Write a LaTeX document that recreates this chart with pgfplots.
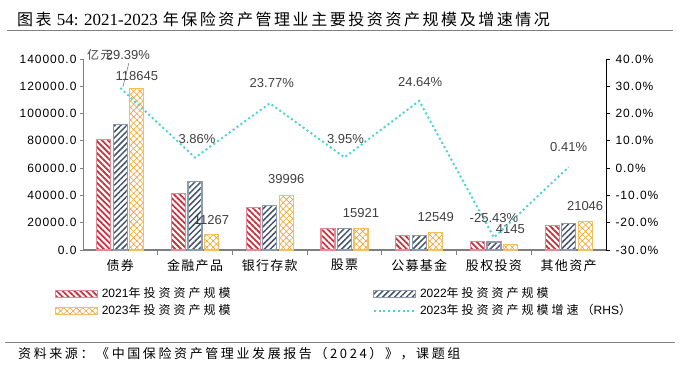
\documentclass[border=0pt]{standalone}
\usepackage{fontspec}
\setmainfont{Liberation Sans}
\newfontfamily\tickfont{Liberation Sans}[LetterSpace=8]
\newfontfamily\cjk{Noto Sans CJK SC}[LetterSpace=10]
\newfontfamily\cjkl{Noto Sans CJK SC}[LetterSpace=25]
\newfontfamily\cjkt{Noto Sans CJK SC}[LetterSpace=16]
\newfontfamily\cjks{Noto Sans CJK SC}[LetterSpace=20]
\newfontfamily\serifnum{Liberation Serif}
\usepackage{pgfplots}
\usepackage{pgfplotstable}
\pgfplotsset{compat=1.18}
\usetikzlibrary{patterns.meta}
\newcommand\fs[1]{\fontsize{#1}{#1}\selectfont}

\definecolor{cred}{HTML}{C8323F}
\definecolor{credb}{HTML}{E48A96}
\definecolor{cnavy}{HTML}{44546A}
\definecolor{cnavyb}{HTML}{8E9AB0}
\definecolor{corange}{HTML}{F2A22A}
\definecolor{corangeb}{HTML}{F7BE60}
\definecolor{ccyan}{HTML}{4CD4D4}
\definecolor{clab}{HTML}{404040}
\definecolor{axgray}{HTML}{808080}

\tikzset{
  redbar/.style={draw=credb, line width=1.2pt, pattern={Lines[angle=-45,distance=4.2pt,line width=1.8pt]}, pattern color=cred},
  navybar/.style={draw=cnavyb, line width=1.2pt, pattern={Lines[angle=45,distance=4.2pt,line width=1.5pt]}, pattern color=cnavy},
  orangebar/.style={draw=corangeb, line width=1.2pt, pattern={Hatch[angle=45,distance=4.5pt,line width=0.6pt]}, pattern color=corange},
  growline/.style={draw=ccyan, line width=2pt, dash pattern=on 2pt off 2.8pt},
}

\pgfplotstableread{
x y21 y22 y23 lab dy
0 81000 92000 118645 118645 12
1 41500 50300 11267 11267 15
2 31300 32800 39996 39996 16
3 15600 15600 15921 15921 15
4 10500 10700 12549 12549 15.5
5 6000 5900 4145 4145 15
6 18100 19600 21046 21046 15.5
}\bars

\pgfplotstableread{
x g lab dx dy
0 29.39 29.39 7.6 33
1 3.86 3.86 2 18.6
2 23.77 23.77 2 20
3 3.95 3.95 1 18.4
4 24.64 24.64 1 19
5 -25.43 -25.43 0 19.5
6 0.41 0.41 0 20
}\growth

\begin{document}
\begin{tikzpicture}
\begin{axis}[
  scale only axis, width=523pt, height=191pt,
  xmin=-0.5, xmax=6.5, ymin=0, ymax=140000,
  axis y line*=left, axis x line*=bottom,
  x axis line style={draw=axgray, line width=1.6pt},
  y axis line style={draw=axgray, line width=0.8pt},
  ybar=2.5pt, bar width=14pt,
  xtick={0,...,6},
  xticklabels={债券,金融产品,银行存款,股票,公募基金,股权投资,其他资产},
  xticklabel style={font=\cjk\fs{13}, yshift=-3pt},
  major x tick style={draw=none},
  minor xtick={0.5,1.5,2.5,3.5,4.5,5.5},
  minor x tick style={draw=axgray, line width=0.8pt},
  minor tick length=5pt,
  ytick={0,20000,40000,60000,80000,100000,120000,140000},
  major tick length=3pt,
  tick align=outside,
  y tick style={draw=axgray, line width=0.8pt},
  yticklabel style={font=\tickfont\fs{12}, /pgf/number format/.cd, fixed, fixed zerofill, precision=1, 1000 sep={}, assume math mode=true},
  scaled y ticks=false,
  clip=false,
]
\addplot[redbar] table[x=x,y=y21]{\bars};
\addplot[navybar] table[x=x,y=y22]{\bars};
\addplot[orangebar,
  nodes near coords, point meta=explicit symbolic,
  visualization depends on={\thisrow{dy}\as\vdy},
  every node near coord/.append style={font=\fs{13}, text=clab, anchor=center, yshift=\vdy pt, inner sep=0pt}
] table[x=x,y=y23,meta=lab]{\bars};
\node[anchor=west, inner sep=0pt, text=clab, font=\cjk\fs{12}] at (axis description cs:0,1) [xshift=4pt, yshift=4pt] {亿元};
\end{axis}

\begin{axis}[
  scale only axis, width=523pt, height=191pt,
  xmin=-0.5, xmax=6.5, ymin=-30, ymax=40,
  axis y line*=right, axis x line=none,
  ytick={-30,-20,-10,0,10,20,30,40},
  yticklabel={\pgfmathprintnumber[fixed,fixed zerofill,precision=1,assume math mode=true]{\tick}\%},
  yticklabel style={font=\tickfont\fs{12}, xshift=2pt},
  y axis line style={draw=black, line width=0.8pt},
  tick align=outside, major tick length=4pt,
  y tick style={draw=black, line width=0.8pt},
  clip=false,
  legend columns=2,
  legend cell align=left,
  legend style={draw=none, fill=none, at={(-0.0535,-0.186)}, anchor=north west,
    inner sep=0pt, outer sep=0pt, row sep=0pt, column sep=0pt,
    nodes={inner xsep=2pt, inner ysep=0pt, text height=12pt, text depth=5pt, text width=269pt, align=left, font=\fs{12}}},
]
\addlegendimage{legend image code/.code={\draw[redbar] (0pt,-3.5pt) rectangle (42pt,3.5pt); \path (44pt,0pt);}}
\addlegendimage{legend image code/.code={\draw[navybar] (0pt,-3.5pt) rectangle (42pt,3.5pt); \path (44pt,0pt);}}
\addlegendimage{legend image code/.code={\draw[orangebar] (0pt,-3.5pt) rectangle (42pt,3.5pt); \path (44pt,0pt);}}
\addlegendimage{legend image code/.code={\draw[growline] (0pt,0pt) -- (42pt,0pt); \path (44pt,0pt);}}
\addplot[growline, mark=none, forget plot,
  nodes near coords, point meta=explicit symbolic,
  visualization depends on={\thisrow{dx}\as\vdx},
  visualization depends on={\thisrow{dy}\as\vdy},
  every node near coord/.append style={font=\fs{13}, text=clab, anchor=center, xshift=\vdx pt, yshift=\vdy pt, inner sep=0pt, solid},
  nodes near coords={\pgfplotspointmeta\%}
] table[x=x,y=g,meta=lab]{\growth};
\draw[gray, line width=0.6pt] ([xshift=2.5pt,yshift=1pt]axis cs:0,29.39) -- ([xshift=8.5pt,yshift=25pt]axis cs:0,29.39);
\legend{{2021{\cjkl 年投资资产规模}},{2022{\cjkl 年投资资产规模}},{2023{\cjkl 年投资资产规模}},{2023{\cjkl 年投资资产规模增速（}RHS{\cjkl ）}}}
\end{axis}

\node[anchor=west, inner sep=0pt] at (-66pt,231pt) {{\cjkt\fs{16}图表}\hspace{5pt}{\serifnum\fs{17}54: 2021-2023}\hspace{5pt}{\cjkt\fs{16}年保险资产管理业主要投资资产规模及增速情况}};
\draw[axgray, line width=1pt] (-76pt,219.3pt) -- (590pt,219.3pt);
\draw[axgray, line width=1pt] (-78pt,-92pt) -- (592pt,-92pt);
\node[anchor=west, inner sep=0pt] at (-65pt,-104pt) {\cjks\fs{13}资料来源：《中国保险资产管理业发展报告（2024）》，课题组};
\pgfresetboundingbox
\path[use as bounding box] (-83pt,-115pt) rectangle (600pt,250pt);
\end{tikzpicture}
\end{document}
